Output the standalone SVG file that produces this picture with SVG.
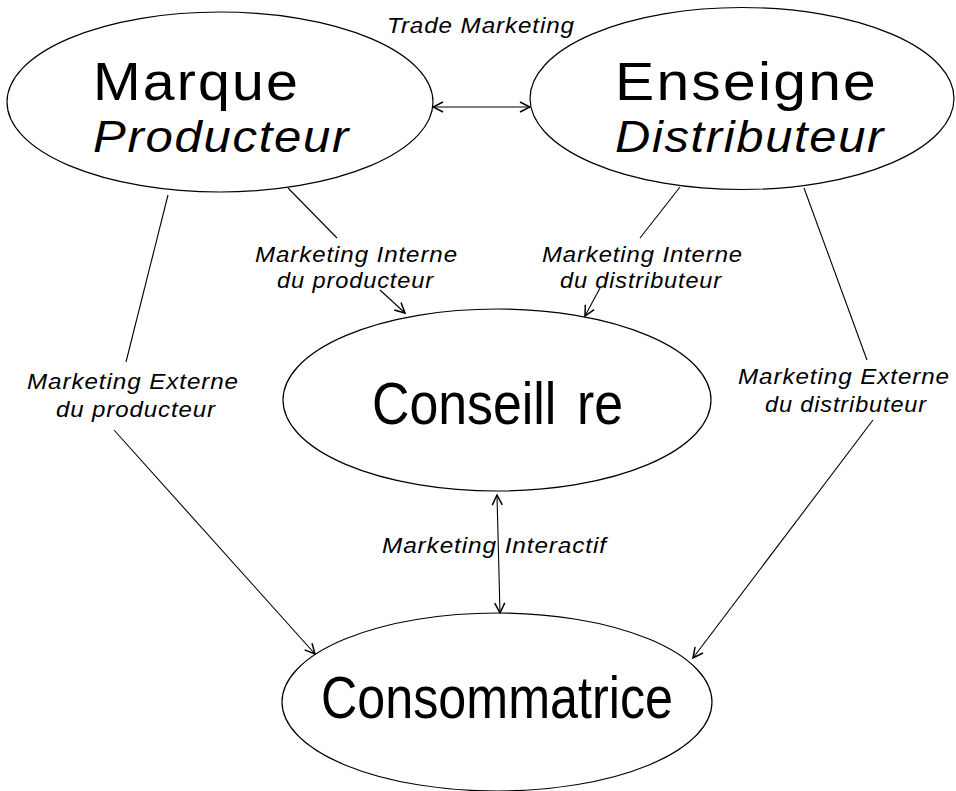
<svg xmlns="http://www.w3.org/2000/svg" width="956" height="791" viewBox="0 0 956 791">
<style>
.node{fill:#fff;stroke:#000;stroke-width:1.2}
.big{font-family:"Liberation Sans",Arial,sans-serif;fill:#000}
.lbl{font-family:"Liberation Sans",Arial,sans-serif;font-style:italic;font-size:21.5px;letter-spacing:0.8px;fill:#000}
.con{stroke:#000;stroke-width:1.1;fill:none}
</style>
<defs>
<marker id="arr" viewBox="0 0 12 12" refX="11" refY="6" markerWidth="12" markerHeight="12" markerUnits="userSpaceOnUse" orient="auto-start-reverse">
<path d="M1,1 L11,6 L1,11" fill="none" stroke="#000" stroke-width="1.5"/>
</marker>
</defs>
<rect width="956" height="791" fill="#fff"/>
<g id="marque">
<ellipse class="node" cx="220" cy="102" rx="213" ry="90"/>
<text class="big" x="93" y="100" font-size="53" letter-spacing="2" textLength="207" lengthAdjust="spacingAndGlyphs">Marque</text>
<text class="big" x="93" y="152" font-size="44" letter-spacing="1.5" font-style="italic" textLength="257" lengthAdjust="spacingAndGlyphs">Producteur</text>
</g>
<g id="enseigne">
<ellipse class="node" cx="742" cy="98.5" rx="212" ry="91"/>
<text class="big" x="615" y="100" font-size="53" letter-spacing="2" textLength="263" lengthAdjust="spacingAndGlyphs">Enseigne</text>
<text class="big" x="615" y="152" font-size="44" letter-spacing="1.5" font-style="italic" textLength="270" lengthAdjust="spacingAndGlyphs">Distributeur</text>
</g>
<g id="conseillere">
<ellipse class="node" cx="497" cy="400" rx="214" ry="91"/>
<text class="big" x="372" y="424" font-size="59" word-spacing="7" textLength="251" lengthAdjust="spacingAndGlyphs">Conseill re</text>
</g>
<g id="consommatrice">
<ellipse class="node" cx="497" cy="702" rx="215" ry="89"/>
<text class="big" x="321" y="718" font-size="59" textLength="352" lengthAdjust="spacingAndGlyphs">Consommatrice</text>
</g>
<g id="connectors">
<line class="con" x1="433" y1="107" x2="530" y2="107" marker-start="url(#arr)" marker-end="url(#arr)"/>
<line class="con" x1="288" y1="188" x2="337" y2="238"/>
<line class="con" x1="380" y1="290" x2="405" y2="313" marker-end="url(#arr)"/>
<line class="con" x1="680" y1="187" x2="640" y2="238"/>
<line class="con" x1="600" y1="288" x2="585" y2="316" marker-end="url(#arr)"/>
<line class="con" x1="168" y1="195" x2="126" y2="362"/>
<line class="con" x1="114" y1="430" x2="315" y2="654" marker-end="url(#arr)"/>
<line class="con" x1="804" y1="188" x2="867" y2="360"/>
<line class="con" x1="873" y1="420" x2="693" y2="658" marker-end="url(#arr)"/>
<line class="con" x1="497" y1="495" x2="500" y2="613" marker-start="url(#arr)" marker-end="url(#arr)"/>
</g>
<g id="labels">
<text class="lbl" x="387" y="33" textLength="188" lengthAdjust="spacingAndGlyphs">Trade Marketing</text>
<text class="lbl" x="255" y="262" textLength="203" lengthAdjust="spacingAndGlyphs">Marketing Interne</text>
<text class="lbl" x="277" y="288" textLength="157" lengthAdjust="spacingAndGlyphs">du producteur</text>
<text class="lbl" x="542" y="262" textLength="201" lengthAdjust="spacingAndGlyphs">Marketing Interne</text>
<text class="lbl" x="560" y="288" textLength="162" lengthAdjust="spacingAndGlyphs">du distributeur</text>
<text class="lbl" x="27" y="389" textLength="212" lengthAdjust="spacingAndGlyphs">Marketing Externe</text>
<text class="lbl" x="56" y="417" textLength="160" lengthAdjust="spacingAndGlyphs">du producteur</text>
<text class="lbl" x="738" y="384" textLength="212" lengthAdjust="spacingAndGlyphs">Marketing Externe</text>
<text class="lbl" x="765" y="412" textLength="162" lengthAdjust="spacingAndGlyphs">du distributeur</text>
<text class="lbl" x="382" y="553" textLength="225" lengthAdjust="spacingAndGlyphs">Marketing Interactif</text>
</g>
</svg>
